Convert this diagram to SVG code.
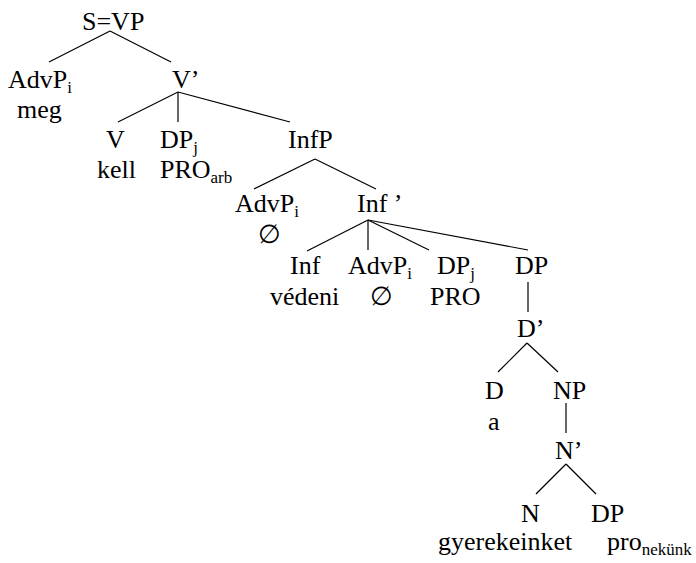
<svg xmlns="http://www.w3.org/2000/svg" width="696" height="563" viewBox="0 0 696 563" font-family="Liberation Serif, Times New Roman, Tinos, DejaVu Serif, serif">
<style>
text{font-family:'Liberation Serif','Times New Roman',Tinos,'DejaVu Serif',serif;font-size:26px;fill:#000}
.s{font-size:17px}
line{stroke:#000;stroke-width:1.2}
</style>
<rect width="696" height="563" fill="#fff"/>
<g id="connectors">
<line x1="110" y1="31" x2="49" y2="62"/>
<line x1="110" y1="31" x2="171" y2="62"/>
<line x1="178" y1="92" x2="118" y2="122"/>
<line x1="178" y1="92" x2="178" y2="122"/>
<line x1="178" y1="92" x2="290" y2="122"/>
<line x1="315" y1="159" x2="254" y2="189"/>
<line x1="315" y1="159" x2="376" y2="189"/>
<line x1="368" y1="220" x2="307" y2="251"/>
<line x1="368" y1="220" x2="368" y2="250"/>
<line x1="368" y1="220" x2="429" y2="250"/>
<line x1="368" y1="220" x2="528" y2="250"/>
<line x1="528" y1="282" x2="528" y2="312"/>
<line x1="527" y1="343" x2="498" y2="372"/>
<line x1="527" y1="343" x2="558" y2="372"/>
<line x1="566" y1="403" x2="566" y2="433"/>
<line x1="566" y1="464" x2="536" y2="494"/>
<line x1="566" y1="464" x2="596" y2="494"/>
</g>
<g id="n-s"><text x="82" y="30">S=VP</text></g>
<g id="n-advp1"><text x="8" y="88">AdvP<tspan class="s" dy="5">i</tspan></text><text x="17" y="118">meg</text></g>
<g id="n-vbar"><text x="172" y="88">V’</text></g>
<g id="n-v"><text x="106" y="148">V</text><text x="97" y="178">kell</text></g>
<g id="n-dp1"><text x="160" y="148">DP<tspan class="s" dy="5">j</tspan></text><text x="160" y="178">PRO<tspan class="s" dy="5">arb</tspan></text></g>
<g id="n-infp"><text x="288" y="148">InfP</text></g>
<g id="n-advp2"><text x="235" y="212">AdvP<tspan class="s" dy="5">i</tspan></text><text x="258" y="243">∅</text></g>
<g id="n-infbar"><text x="357" y="212">Inf ’</text></g>
<g id="n-inf"><text x="290" y="274">Inf</text><text x="270" y="305">védeni</text></g>
<g id="n-advp3"><text x="348" y="274">AdvP<tspan class="s" dy="5">i</tspan></text><text x="370" y="305">∅</text></g>
<g id="n-dp2"><text x="437" y="274">DP<tspan class="s" dy="5">j</tspan></text><text x="430" y="305">PRO</text></g>
<g id="n-dp3"><text x="515" y="274">DP</text></g>
<g id="n-dbar"><text x="517" y="337">D’</text></g>
<g id="n-d"><text x="485" y="399">D</text><text x="488" y="430">a</text></g>
<g id="n-np"><text x="553" y="399">NP</text></g>
<g id="n-nbar"><text x="555" y="459">N’</text></g>
<g id="n-n"><text x="521" y="522">N</text><text x="438" y="550">gyerekeinket</text></g>
<g id="n-dp4"><text x="591" y="522">DP</text><text x="607" y="550">pro<tspan class="s" dy="5">nekünk</tspan></text></g>
</svg>
